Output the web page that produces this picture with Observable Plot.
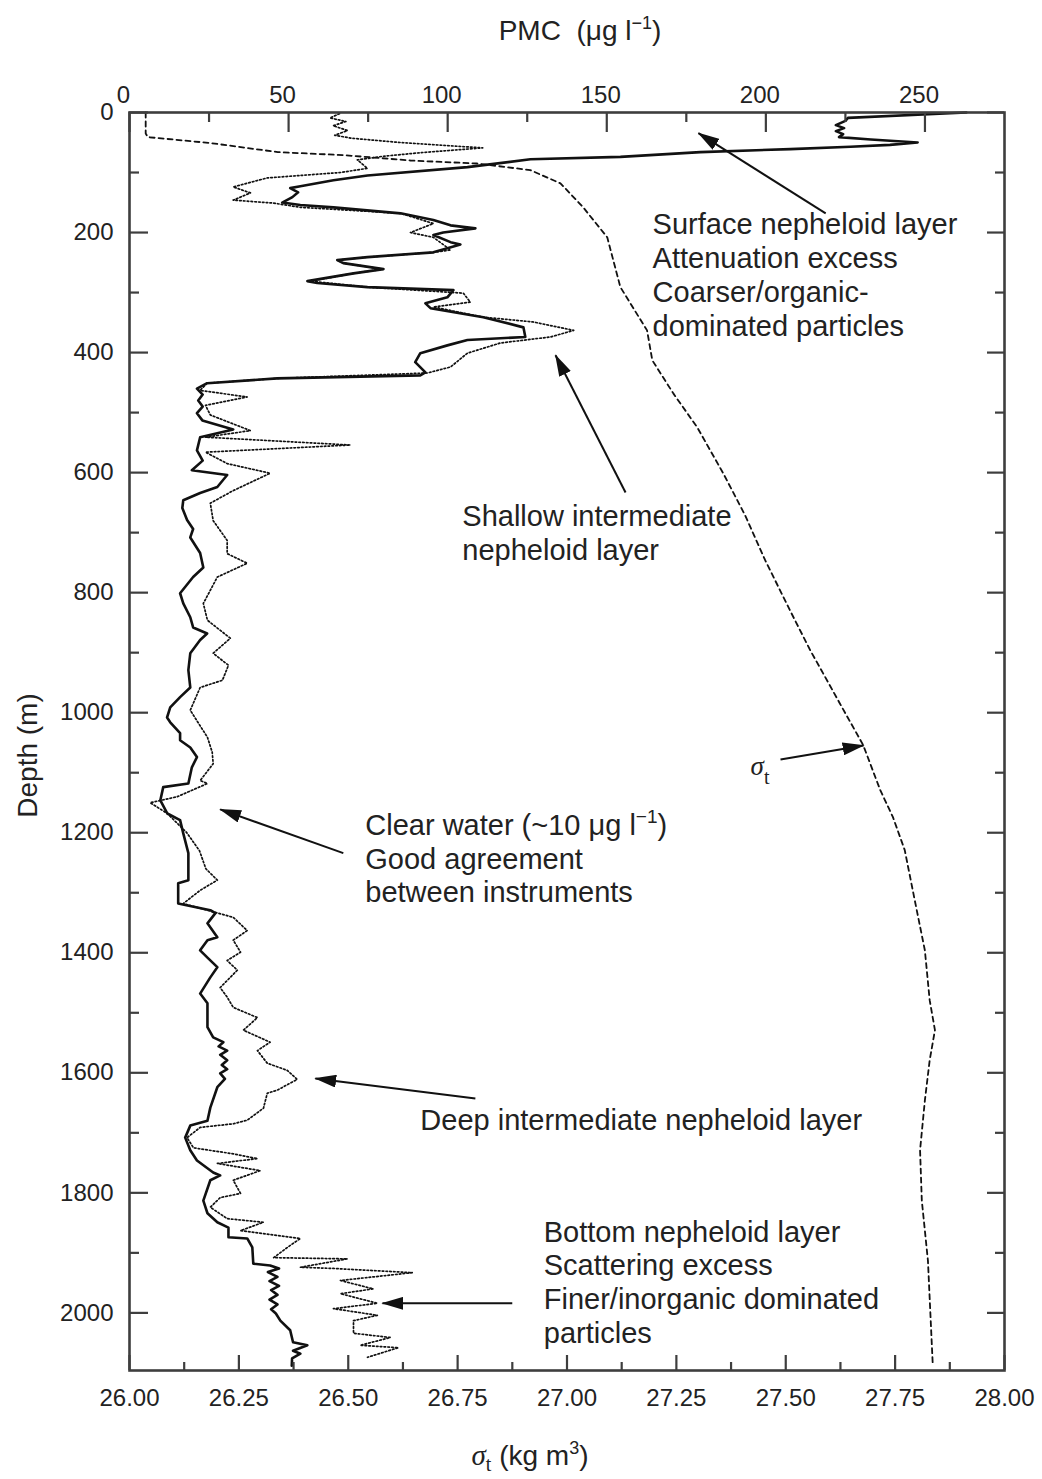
<!DOCTYPE html>
<html>
<head>
<meta charset="utf-8">
<script src="https://cdn.jsdelivr.net/npm/d3@7"></script>
<script src="https://cdn.jsdelivr.net/npm/@observablehq/plot@0.6"></script>
<style>
html, body { margin: 0; padding: 0; background: #fff; }
#chart { width: 1042px; height: 1479px; }
</style>
</head>
<body>
<div id="chart"></div>
<script>
// ---------- DATA ----------
// PMC instrument 1 (solid line): [PMC µg/l, depth m]
const pmcSolid = [
  [263,0],[225.8,9],[225,14],[222,21],[224.6,26],[222,31],[224.3,36],[223,41],[233,45],[247.7,50],
  [239,54],[226.6,57],[207.7,61],[179.4,66],[154.3,74],[126,78],[106.2,91],[74.8,105],[64.1,113],
  [53.7,123],[50.5,126],[53,133],[51.2,141],[48,150],[53.7,154],[64.1,158],[85.2,168],[95.5,179],
  [100.9,188],[108.7,193],[98.6,200],[95.5,204],[100.9,216],[104,220],[95.5,233],[74.8,241],
  [65.3,246],[67.2,251],[79.8,261],[70.4,268],[55.9,281],[59,284],[74.8,291],[101.8,296],[99.9,308],
  [93,318],[94.6,326],[111.2,341],[123.8,358],[124.4,374],[106.2,379],[99.9,388],[91.4,401],
  [89.8,416],[93,433],[91.4,438],[46.4,443],[24.4,451],[21.2,460],[23,470],[21.6,480],[23,490],
  [21.2,501],[22.9,513],[32.6,528],[22.2,541],[21.2,563],[23,580],[19.6,596],[30.7,604],[27.6,624],
  [22.2,634],[16.9,646],[16.6,659],[18.1,679],[20,694],[19.1,708],[22.2,734],[23.2,758],[20,774],
  [15.9,801],[16.9,818],[19.1,841],[20,858],[24.4,868],[22.2,879],[19.1,901],[18.5,929],[19.1,958],
  [15.9,974],[12.8,991],[11.8,1008],[12.8,1016],[15.9,1034],[15.9,1046],[19.1,1058],[21.2,1074],
  [19.6,1091],[18.5,1118],[10.6,1124],[9.7,1146],[11.9,1168],[15.9,1179],[16.9,1201],[18.5,1234],
  [18.5,1279],[15.3,1284],[15.3,1318],[25.4,1329],[27,1334],[24.5,1351],[27.6,1374],[24.5,1379],
  [22.2,1396],[24.5,1408],[27.6,1424],[25.4,1441],[22.2,1468],[24.5,1484],[24.5,1524],[26.3,1541],
  [29.5,1549],[28,1556],[30.7,1563],[28.5,1570],[30.7,1579],[29,1587],[30.7,1594],[28.5,1601],
  [30,1610],[27.6,1624],[25.4,1658],[24.5,1680],[19.1,1688],[17.5,1708],[19.1,1729],[21.2,1746],
  [26.3,1766],[28.5,1771],[25.4,1779],[23.2,1813],[24.5,1834],[27.6,1849],[31.1,1858],[31.1,1874],
  [37,1876],[38.6,1891],[38.9,1918],[44.2,1921],[47,1926],[43.5,1932],[46.5,1940],[44,1947],[47,1955],
  [44.5,1962],[46.5,1970],[44,1978],[46.5,1986],[44.5,1994],[46,2001],[47.4,2013],[50.5,2029],
  [51.4,2049],[55.9,2054],[51.4,2063],[53.7,2068],[51.1,2076],[51,2088]
];

// PMC instrument 2 (dotted line): [PMC µg/l, depth m]
const pmcDotted = [
  [66,2],[63,9],[68,15],[64,22],[68.5,30],[64.5,38],[70,43],[85,50],[111,59],[91.4,67],[79.6,73],
  [71.6,79],[74.8,93],[66.3,100],[43.3,109],[32.6,124],[38,134],[32.6,146],[45.3,151],[53.7,158],
  [85.2,168],[95.5,185],[88.3,200],[95.5,208],[100.9,229],[95.5,233],[74.8,241],[65.3,246],
  [67.2,251],[79.8,261],[70.4,268],[56.9,281],[74.8,291],[104.9,301],[107.1,316],[95.5,324],
  [111.2,341],[126.9,349],[139.6,363],[132.3,374],[116.6,384],[106.2,401],[100.9,424],[93.6,434],
  [46.4,443],[24.4,451],[22.2,463],[37,474],[23.9,488],[25.4,504],[38,530],[23.9,541],[69.4,554],
  [23.9,566],[30.7,585],[44.2,601],[32.6,630],[25.4,651],[26.3,680],[30.7,713],[30.7,735],[37,751],
  [27.6,774],[23.2,818],[24.5,846],[31.7,876],[26.3,901],[31.1,921],[29.2,946],[22.2,958],
  [19.1,996],[24.5,1041],[26,1066],[26.3,1085],[22.2,1113],[24.5,1118],[15,1140],[6.5,1150],
  [11.9,1168],[18,1200],[22,1230],[24,1260],[27.6,1279],[22.2,1296],[16.9,1318],[32.6,1341],
  [37,1363],[32.6,1379],[34.9,1399],[30.7,1413],[33.9,1429],[28.5,1458],[30.7,1474],[32.6,1491],
  [40.2,1508],[35.8,1529],[44.2,1549],[40.2,1563],[43.3,1584],[49.6,1596],[52.7,1611],[46.4,1629],
  [43.3,1634],[42.1,1659],[37,1679],[32.6,1685],[22.2,1691],[18.1,1708],[20.1,1725],[32.6,1735],
  [40.2,1743],[27.6,1751],[41.1,1763],[32.6,1779],[34.9,1801],[28.5,1808],[25.4,1824],[30.7,1843],
  [42.1,1849],[34.9,1863],[53.7,1876],[49.6,1891],[45.3,1908],[68.5,1910],[53.7,1924],[64.1,1926],
  [88.9,1933],[66.3,1946],[76.6,1960],[66.3,1968],[77.9,1984],[64.1,1993],[77.9,2004],[70.4,2013],
  [70.4,2034],[82,2041],[72.5,2054],[84.5,2058],[74.8,2074]
];

// sigma-t (dashed line): [sigma-t kg/m3, depth m]
const sigmaLine = [
  [26.037,0],[26.037,35],[26.042,41],[26.186,51],[26.339,66],[26.489,71],[26.642,80],[26.795,85],
  [26.916,96],[26.985,118],[27.037,158],[27.092,208],[27.122,291],[27.183,363],[27.195,413],
  [27.243,468],[27.298,525],[27.357,601],[27.407,671],[27.453,746],[27.510,830],[27.556,896],
  [27.624,985],[27.677,1054],[27.716,1129],[27.745,1174],[27.772,1229],[27.795,1313],[27.818,1396],
  [27.829,1479],[27.841,1529],[27.829,1579],[27.818,1646],[27.807,1729],[27.811,1813],
  [27.825,1913],[27.836,2086]
];

// axis ticks
const pmcTicks = [0, 50, 100, 150, 200, 250];
const pmcMinorTicks = [25, 75, 125, 175, 225];
const depthTicks = [0, 200, 400, 600, 800, 1000, 1200, 1400, 1600, 1800, 2000];
const depthMinorTicks = [100, 300, 500, 700, 900, 1100, 1300, 1500, 1700, 1900];
const sigmaTicks = [26, 26.25, 26.5, 26.75, 27, 27.25, 27.5, 27.75, 28];
const sigmaMinorTicks = [26.125, 26.375, 26.625, 26.875, 27.125, 27.375, 27.625, 27.875];

// annotations (text, anchored in PMC / depth units)
const noteTexts = [
  "Surface nepheloid layer\nAttenuation excess\nCoarser/organic-\ndominated particles",
  "Shallow intermediate\nnepheloid layer",
  "Clear water (~10 μg l−1)\nGood agreement\nbetween instruments",
  "Deep intermediate nepheloid layer",
  "Bottom nepheloid layer\nScattering excess\nFiner/inorganic dominated\nparticles"
];
const notePMC = [164.4, 104.6, 74.1, 91.4, 130.2];
const noteDepth = [163, 649, 1163, 1655, 1841];

// arrows: tail (PMC, depth) -> head (PMC, depth)
const arrowTail = [[218.8,168],[155.9,633],[67.2,1234],[108.7,1643],[120.3,1984],[204.6,1078]];
const arrowHead = [[178.8,34.5],[133.9,404.5],[28.5,1161],[58.4,1609.5],[79.5,1984],[230.7,1054.5]];

// ---------- CHART ----------
const W = 1042, H = 1479, mT = 112, mL = 129, mR = 38, mB = 109;
const fw = W - mL - mR, fh = H - mT - mB;
const PMC_MAX = 275, DEPTH_MAX = 2096;
const sig2x = d3.scaleLinear([26, 28], [0, PMC_MAX]);
const ink = "#111", axisInk = "#3e3e3e", txt = "#222";

const notes = noteTexts.map((t, i) => ({text: t, x: notePMC[i], y: noteDepth[i]}));
const arrows = arrowTail.map((t, i) => ({x1: t[0], y1: t[1], x2: arrowHead[i][0], y2: arrowHead[i][1]}));

const plot = Plot.plot({
  width: W, height: H,
  marginTop: mT, marginLeft: mL, marginRight: mR, marginBottom: mB,
  x: {domain: [0, PMC_MAX]},
  y: {domain: [0, DEPTH_MAX], reverse: true},
  style: {fontFamily: "'Liberation Sans', Arial, Helvetica, sans-serif", fontSize: "24px", background: "#fff", color: txt, overflow: "visible"},
  marks: [
    // data lines
    Plot.line(sigmaLine, {x: d => sig2x(d[0]), y: d => d[1], stroke: ink, strokeWidth: 1.8, strokeDasharray: "5,4"}),
    Plot.line(pmcDotted, {x: d => d[0], y: d => d[1], stroke: ink, strokeWidth: 1.7, strokeDasharray: "1.6,2.2"}),
    Plot.line(pmcSolid, {x: d => d[0], y: d => d[1], stroke: ink, strokeWidth: 2.6, strokeLinejoin: "round"}),
    // frame and inward ticks
    Plot.frame({stroke: axisInk, strokeWidth: 2.6}),
    Plot.tickX(pmcTicks, {x: d => d, insetBottom: fh - 20, stroke: axisInk, strokeWidth: 2.2}),
    Plot.tickX(pmcMinorTicks, {x: d => d, insetBottom: fh - 10, stroke: axisInk, strokeWidth: 2.2}),
    Plot.tickX(sigmaTicks.map(sig2x), {x: d => d, insetTop: fh - 15, stroke: axisInk, strokeWidth: 2.2}),
    Plot.tickX(sigmaMinorTicks.map(sig2x), {x: d => d, insetTop: fh - 8, stroke: axisInk, strokeWidth: 2.2}),
    Plot.tickY(depthTicks, {y: d => d, insetRight: fw - 19, stroke: axisInk, strokeWidth: 2.2}),
    Plot.tickY(depthMinorTicks, {y: d => d, insetRight: fw - 10, stroke: axisInk, strokeWidth: 2.2}),
    Plot.tickY(depthTicks, {y: d => d, insetLeft: fw - 17, stroke: axisInk, strokeWidth: 2.2}),
    Plot.tickY(depthMinorTicks, {y: d => d, insetLeft: fw - 9, stroke: axisInk, strokeWidth: 2.2}),
    // tick labels
    Plot.axisX(pmcTicks, {anchor: "top", tickSize: 0, tickPadding: 10, label: null, dx: -6, fontSize: 24,
      tickFormat: d => String(d)}),
    Plot.axisX(sigmaTicks.map(sig2x), {anchor: "bottom", tickSize: 0, tickPadding: 18, label: null, fontSize: 24,
      tickFormat: v => sig2x.invert(v).toFixed(2)}),
    Plot.axisY(depthTicks, {anchor: "left", tickSize: 0, tickPadding: 16, label: null, fontSize: 24,
      tickFormat: d => String(d)}),
    // axis titles
    Plot.text(["PMC (μg l−1)"], {frameAnchor: "top", text: d => d, textAnchor: "middle", dx: 13, dy: -73, lineAnchor: "bottom", fontSize: 28, fill: txt}),
    Plot.text(["σt (kg m3)"], {frameAnchor: "bottom", text: d => d, textAnchor: "middle", dx: -37, dy: 94, lineAnchor: "bottom", fontSize: 28, fill: txt}),
    Plot.text(["Depth (m)"], {frameAnchor: "left", text: d => d, textAnchor: "middle", rotate: -90, dx: -93, dy: 14, lineAnchor: "bottom", fontSize: 28, fill: txt}),
    // annotations
    Plot.text(notes, {x: "x", y: "y", text: "text", textAnchor: "start", lineAnchor: "top", lineHeight: 1.17, fontSize: 29, fill: txt}),
    Plot.text([{t: "σt", x: 195.2, y: 1104.5}], {x: "x", y: "y", text: "t", textAnchor: "start", lineAnchor: "bottom", fontSize: 27, fill: txt}),
    Plot.link(arrows, {x1: "x1", y1: "y1", x2: "x2", y2: "y2", stroke: ink, strokeWidth: 2})
  ]
});

document.getElementById("chart").appendChild(plot);

// ---------- post-styling: arrowheads & rich text ----------
const svg = d3.select(plot);
const defs = svg.insert("defs", ":first-child");
defs.append("marker")
  .attr("id", "ahead").attr("viewBox", "0 0 10 10").attr("refX", 9.5).attr("refY", 5)
  .attr("markerUnits", "userSpaceOnUse").attr("markerWidth", 22).attr("markerHeight", 13)
  .attr("orient", "auto").attr("preserveAspectRatio", "none")
  .append("path").attr("d", "M0,0L10,5L0,10Z").attr("fill", ink);
svg.selectAll('g[aria-label="link"] path').attr("marker-end", "url(#ahead)");

function rich(content, parts) {
  svg.selectAll("text, tspan").filter(function () {
    return this.childElementCount === 0 && this.textContent === content;
  }).each(function () {
    const sel = d3.select(this);
    sel.text(null);
    for (const p of parts) {
      const t = sel.append("tspan").text(p.t);
      if (p.dy) t.attr("dy", p.dy);
      if (p.size) t.attr("font-size", p.size);
      if (p.italic) t.attr("font-style", "italic");
      if (p.family) t.attr("font-family", p.family);
    }
  });
}
const serif = "'Liberation Serif', 'DejaVu Serif', serif";
rich("PMC (μg l−1)", [{t: "PMC\u00a0 (μg l"}, {t: "−1", dy: -11, size: 18}, {t: ")", dy: 11}]);
rich("σt (kg m3)", [{t: "σ", italic: true, family: serif, size: 29}, {t: "t", dy: 6, size: 20, family: serif},
  {t: " (kg m", dy: -6}, {t: "3", dy: -11, size: 18}, {t: ")", dy: 11}]);
rich("σt", [{t: "σ", italic: true, family: serif, size: 27}, {t: "t", dy: 9, size: 20, family: serif}]);
rich("Clear water (~10 μg l−1)", [{t: "Clear water (~10 μg l"}, {t: "−1", dy: -12, size: 19}, {t: ")", dy: 12}]);
</script>
</body>
</html>
